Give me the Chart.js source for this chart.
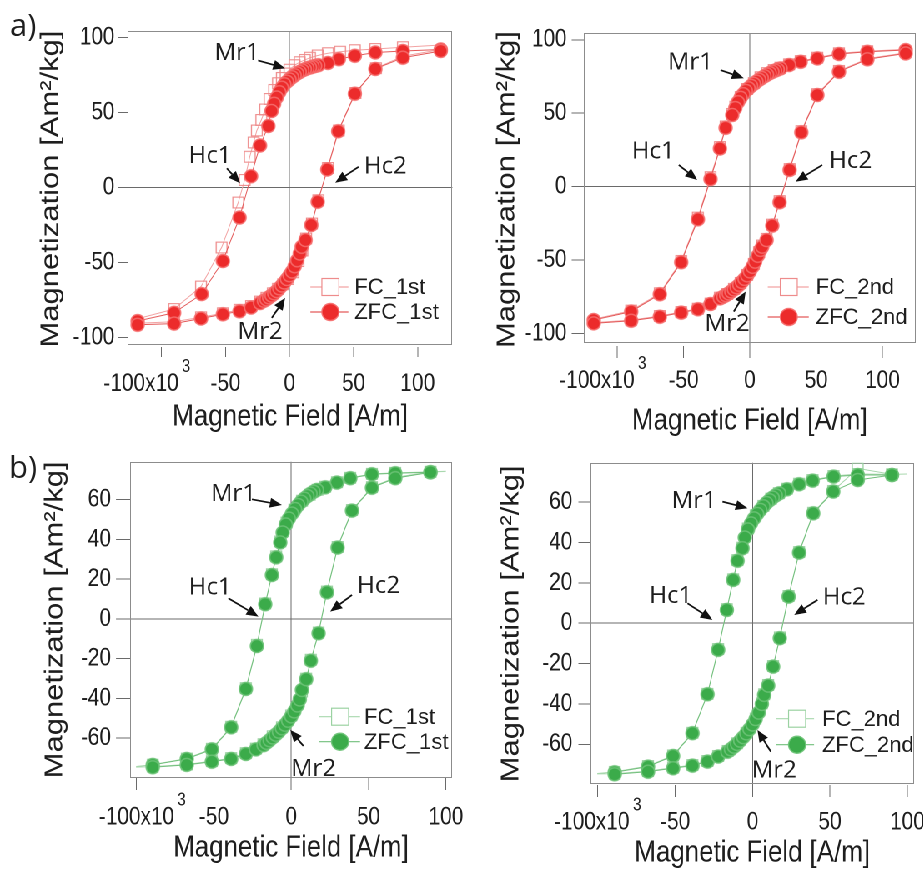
<!DOCTYPE html>
<html><head><meta charset="utf-8">
<script src="https://cdn.jsdelivr.net/npm/chart.js@4.4.1/dist/chart.umd.min.js"></script>
<style>
html,body{margin:0;padding:0;background:#fff;overflow:hidden;}
#stage{position:absolute;left:0;top:0;width:923px;height:874px;overflow:hidden;background:#fff;}
#inner{position:absolute;left:0;top:0;width:1200px;height:874px;transform-origin:0 0;}
canvas{position:absolute;}
.lbl{position:absolute;font-family:"Open Sans","Liberation Sans",Arial,sans-serif;font-size:31px;line-height:31px;color:#1e1e1e;}
</style></head><body>
<div id="stage"><div id="inner">
<canvas id="c1"></canvas><canvas id="c2"></canvas><canvas id="c3"></canvas><canvas id="c4"></canvas>
</div>
<div class="lbl" style="left:10px;top:9px;">a)</div>
<div class="lbl" style="left:9px;top:451px;">b)</div>
</div>
<script>
// ---------------- DATA (field in 10^3 A/m, magnetization in Am²/kg) ----------------
const xTicks = [-100, -50, 0, 50, 100];
const yTicksA = [-100, -50, 0, 50, 100];
const yTicksB = [-60, -40, -20, 0, 20, 40, 60];

// a) ZFC_1st
const aZFC1_H = [118,88.5,67,51,38.5,30,22.5,20,18,16,14,12,10,8,6,4,2,0,-2,-4,-6,-8,-10,-12,-14,-16.5,-23,-30,-39,-52,-68.5,-90,-118.5,
  -118.5,-90,-69,-52,-39,-30,-23,-20,-18,-16,-14,-12,-10,-8,-6,-4,-2,0,2,4,6,8,9.5,12.5,17,22,29.5,38,51,67,88.5,118];
const aZFC1_M = [92,91,90,87.8,85.5,83,81.5,81,80.5,80,79.5,78.8,78,77,76,74.8,73.5,72,70.5,68.8,66.5,63.5,60,55.8,51,41,28,7.5,-20,-49,-71,-83.5,-89,
  -91.5,-90.7,-87.3,-84.5,-82.5,-80,-77,-75.5,-74.5,-73.2,-72,-70.5,-69,-67.2,-65.3,-63.3,-61,-58.5,-56,-52.5,-48.5,-44,-39.5,-35,-25,-9.5,12,37.5,62.5,79,86.5,91];
// a) FC_1st
const aFC1_H = [118,88.5,67,51,39.5,30,22,16,12,8,4,0,-3,-6,-9,-12,-15.5,-19,-22,-25.5,-28,-31,-35,-40,-53,-69,-90,-118.5,
  -118.5,-90,-69,-52,-39,-30,-23,-18,-13,-9,-5,-1,3,7,10,13,17.5,22.5,30,38.5,51.5,67.5,88.5,118];
const aFC1_M = [95,93.5,92.3,91.5,90.5,89.5,88,86.5,85,83.5,81.5,78.5,76,73,69.5,65,59,52,45,38,30,20.5,5,-10,-40,-66,-81,-87.5,
  -90.5,-89.5,-86.5,-83.8,-81.5,-79,-76,-73.5,-70.5,-67.5,-64.5,-61,-56.5,-49,-42,-34,-24,-8.5,13,38,63,79.5,87.5,92];

// a) ZFC_2nd
const aZFC2_H = [117.5,88.6,67.2,50.9,38.3,29.6,23.2,21,19,17,15,13,11,9,7,5,3,1,-1,-3,-5,-7,-9,-11,-13.3,-18.3,-22.6,-29.7,-39.2,-51.8,-67.9,-89.5,-117.7,
  -117.7,-89.5,-67.9,-51.8,-39.2,-29.7,-22.6,-20,-18,-16,-14,-12,-10,-8,-6,-4,-2,0,2,4,6,8,9.3,12.6,16.9,22.4,30,38.8,50.9,67.2,88.6,117.5];
const aZFC2_M = [93,91.8,90.3,87.3,85,82.8,80.5,79.8,79,78.2,77.3,76.3,75.2,74,72.8,71.5,70,68.6,67,65.2,63,60.5,57.5,53.5,48.8,40.1,26,5.2,-22.2,-51.4,-73.2,-85,-90.7,
  -93,-91.2,-88.5,-85.7,-83.4,-79.8,-76,-74.8,-73.8,-72.6,-71.3,-69.9,-68.4,-66.7,-64.8,-62.7,-60.3,-57.6,-54.5,-51,-47,-43,-40.8,-36.3,-26.5,-10.6,11.4,37,62.4,78.2,86.7,90.7];
// a) FC_2nd
const aFC2_H = [117.5,88.6,67.2,50.9,38.3,29.6,23,18,13,8,3,-2,-7,-11,-13.5,-18.3,-22.6,-29.7,-39.2,-51.8,-67.9,-89.5,-117.7,
  -117.7,-89.5,-67.9,-51.8,-39.2,-29.7,-22.6,-17,-12,-7,-2,3,7,9.3,12.6,16.9,22.4,30,38.8,50.9,67.2,88.6,117.5];
const aFC2_M = [93.5,92.2,90.8,87.8,85.5,83.3,81,79.4,77.3,74.5,70.5,66.5,61,54.5,49.5,41,27,6.5,-21,-50.5,-72.5,-84.3,-90.2,
  -92.5,-90.8,-88,-85.3,-83,-79.5,-75.5,-73,-69.5,-65.5,-60,-52.5,-44.5,-40,-35.5,-25.8,-9.8,12,37.8,63,78.8,87.2,91.2];

// b) ZFC_1st
const bZFC1_H = [90,67.3,52.2,38.2,29.6,22,16.6,14.5,12.5,10.5,8.5,6.5,4.5,2.5,0.5,-1.5,-3.5,-5.5,-7.1,-9.7,-12.5,-16.8,-22.2,-29.3,-38.8,-51.3,-67.5,-89.5,
  -89.5,-67.5,-51.3,-38.8,-29.3,-22.8,-17.9,-16,-14,-12,-10,-8,-6,-4,-2,0,2,4,5.5,6.9,9.7,12.7,17.7,23.1,30,39.3,52.2,67.3,90];
const bZFC1_M = [73.8,73.3,72.8,70.8,68.6,66.2,64.9,64,63,61.8,60.5,59,57.3,55.3,53,50.5,47.5,43.5,38.5,31,22.1,7.4,-13.6,-35.2,-54.5,-65.6,-70.4,-73.4,
  -74.6,-73.4,-71.8,-70.4,-67.9,-65.6,-63.5,-62.3,-61,-59.6,-58.2,-56.7,-55,-53.2,-51.2,-49,-46.5,-43.5,-40.5,-35.7,-30.3,-21,-7.2,13.4,35.9,54.5,66,70.8,73.8];
// b) FC_1st
const bFC1_H = [100,90,67.3,52.2,38.2,29.6,22,17,12,7,2,-3,-7,-9.7,-12.5,-16.8,-22.2,-29.3,-38.8,-51.3,-67.5,-89.5,-100,
  -100,-89.5,-67.5,-51.3,-38.8,-29.3,-22.8,-18,-12,-6,0,5,6.9,9.7,12.7,17.7,23.1,30,39.3,52.2,67.3,90,100];
const bFC1_M = [74.2,74,73.5,73,71,68.8,66.5,65,62.5,59.5,55,48.5,39,31.5,22.5,7.8,-13,-34.8,-54.2,-65.3,-70.2,-73.3,-74.2,
  -74.5,-74.3,-73.2,-71.5,-70,-67.5,-65.2,-63,-59,-54.5,-48.5,-41.5,-36.5,-30,-20.5,-6.8,13.8,36.2,54.8,66.3,71.2,74,74.3];

// b) ZFC_2nd
const bZFC2_H = [90,67.9,52.3,38.8,30.1,22.2,17.2,15,13,11,9,7,5,3,1,-1,-3,-5,-6.5,-9.7,-12.5,-16.6,-22.2,-29.1,-38.8,-51.3,-67.5,-89,
  -89,-67.5,-51.3,-38.8,-29.1,-22.2,-16.2,-14,-12,-10,-8,-6,-4,-2,0,2,4,6,7.5,10.1,13.3,17.6,23.3,30.1,39.2,52.1,67.9,90];
const bZFC2_M = [73.5,73.5,72.7,70.7,68.9,66.4,64.4,63.4,62.3,61,59.6,58,56.2,54.2,52,49.5,46.5,42.5,37.2,31,21.5,6.6,-13.2,-35.2,-54.5,-65.8,-71.1,-73.9,
  -74.9,-73.6,-71.9,-70.6,-68.6,-66.1,-63.7,-62.5,-61.2,-59.8,-58.2,-56.5,-54.6,-52.5,-50.2,-47.5,-44.3,-40,-35.5,-30.9,-21.5,-7.4,13.2,35,54.5,65.3,71,73.5];
// b) FC_2nd
const bFC2_H = [100,90,67.9,52.3,38.8,30.1,22.2,17,12,7,2,-3,-6.5,-9.7,-12.5,-16.6,-22.2,-29.1,-38.8,-51.3,-67.5,-89,-100,
  -100,-89,-67.5,-51.3,-38.8,-29.1,-22.2,-16,-10,-4,2,6,7.5,10.1,13.3,17.6,23.3,30.1,39.2,52.1,67.9,90,100];
const bFC2_M = [74,73.8,74,73,71,69.2,66.7,64.5,61.8,58.2,53.5,47,37.5,31.3,21.8,7,-12.8,-35,-54.3,-65.5,-70.8,-73.7,-74.5,
  -74.7,-74.6,-73.3,-71.6,-70.3,-68.3,-65.8,-63.3,-59.5,-54.3,-47.2,-39.7,-35.2,-30.6,-21.2,-7,13.5,35.3,54.8,65.6,76.8,73.8,74];

// annotation texts with positions in data units: [label, textX, textY, arrowFromX, arrowFromY, arrowToX, arrowToY]
const notesA1 = [['Mr1',-41,90.2,-24.5,84.7,-3.4,79.4],['Hc1',-62,21.6,-48.9,12.8,-38.5,2.8],['Hc2',74.8,14.5,53.9,13.8,35.7,3.2],['Mr2',-22.9,-95.8,-13.8,-86.9,-3.4,-73.6]];
const notesA2 = [['Mr1',-44.8,85,-22.1,79.4,-4.5,73.8],['Hc1',-72.9,24.5,-53.6,14.8,-39.7,4.6],['Hc2',76,18.2,54.6,14.8,34.5,3.4],['Mr2',-17.1,-92.9,-12.1,-85,-3.2,-71.4]];
const notesB1 = [['Mr1',-37.3,63.2,-25.4,60.2,-6,57.3],['Hc1',-52.4,16.2,-40.6,10.4,-21.2,1.2],['Hc2',56.5,17.1,39.3,12.1,25.2,3.7],['Mr2',14.4,-75.1,7.9,-63.9,-0.6,-55.8]];
const notesB2 = [['Mr1',-37.8,61.1,-19.4,60.3,-3.2,57],['Hc1',-52.8,14,-42,9.9,-25.9,1.6],['Hc2',59.2,13.2,42,11.6,26.9,4.1],['Mr2',14,-72.7,11.8,-63.7,3.2,-52.9]];

// ---------------- STYLE / LAYOUT ----------------
const S = 0.834; // horizontal squeeze of the reference figure (axis text is condensed)
const FONT = '"Liberation Sans", Arial, Helvetica, sans-serif';
const NOTEFONT = '"Open Sans", "Liberation Sans", Arial, sans-serif';
const TF = 25; // tick font size
const TXT = '#1e1e1e', ZERO = '#6a6a6a', TICK = '#6a6a6a', FRAME = '#8c8c8c';
const RED = {line:'#e35a5a', fill:'#ec2b2b', edge:'rgba(246,110,110,0.9)', fcLine:'#f2a3a3', fcMark:'#ee8c8c'};
const GRN = {line:'#72bf7c', fill:'#3bab4a', edge:'rgba(110,195,120,0.9)', fcLine:'#a9d8ae', fcMark:'#9bd2a2'};

document.getElementById('inner').style.transform = 'scaleX(' + S + ')';

function pts(xs, ys) { return xs.map((v, i) => ({x: v, y: ys[i]})); }
function fnt(px, fam) { return px + 'px ' + (fam || FONT); }

// markers pre-stretched horizontally so they look round after the squeeze
function markerImg(kind, r, fill, edge, lw) {
  const k = 4;
  const w = Math.ceil((2 * r + lw + 2) / S), h = Math.ceil(2 * r + lw + 2);
  const c = document.createElement('canvas'); c.width = w * k; c.height = h * k;
  const g = c.getContext('2d');
  g.setTransform(k / S, 0, 0, k, 0, 0);
  const cx = w * S / 2, cy = h / 2;
  g.lineWidth = lw;
  if (kind === 'circle') {
    g.beginPath(); g.arc(cx, cy, r, 0, Math.PI * 2);
    g.fillStyle = fill; g.fill(); g.strokeStyle = edge; g.stroke();
  } else {
    g.strokeStyle = edge; g.strokeRect(cx - r, cy - r, 2 * r, 2 * r);
  }
  const img = new Image();
  img.width = w; img.height = h;
  return new Promise(res => { img.onload = () => res(img); img.src = c.toDataURL(); });
}

const hystPlugin = {
  id: 'hyst',
  beforeDatasetsDraw(chart, args, o) {
    const {ctx, chartArea: a} = chart;
    ctx.save();
    ctx.strokeStyle = FRAME; ctx.lineWidth = 1;
    const fb = a.bottom - o.frameGap;
    ctx.strokeRect(Math.round(a.left) + 0.5, Math.round(a.top) + 0.5, Math.round(a.right - a.left) - 1, Math.round(fb - a.top));
    ctx.restore();
  },
  afterDatasetsDraw(chart, args, o) {
    const {ctx, chartArea: a, scales: {x, y}} = chart;
    ctx.save();
    // annotations (drawn un-squeezed)
    for (const n of o.notes) {
      ctx.save();
      ctx.translate(x.getPixelForValue(n[1]), y.getPixelForValue(n[2]));
      ctx.scale(1 / S, 1);
      ctx.fillStyle = TXT; ctx.font = fnt(24, NOTEFONT); ctx.textAlign = 'center'; ctx.textBaseline = 'middle';
      ctx.fillText(n[0], 0, 1);
      ctx.restore();
      const x1 = x.getPixelForValue(n[3]), y1 = y.getPixelForValue(n[4]);
      const x2 = x.getPixelForValue(n[5]), y2 = y.getPixelForValue(n[6]);
      ctx.save(); ctx.scale(1 / S, 1);
      const X1 = x1 * S, X2 = x2 * S;
      const ang = Math.atan2(y2 - y1, X2 - X1), hl = 12, hw = 5;
      const bx = X2 - hl * Math.cos(ang), by = y2 - hl * Math.sin(ang);
      ctx.strokeStyle = '#111'; ctx.lineWidth = 1.7;
      ctx.beginPath(); ctx.moveTo(X1, y1); ctx.lineTo(bx, by); ctx.stroke();
      ctx.beginPath(); ctx.moveTo(X2, y2);
      ctx.lineTo(bx + hw * Math.sin(ang), by - hw * Math.cos(ang));
      ctx.lineTo(bx - hw * Math.sin(ang), by + hw * Math.cos(ang));
      ctx.closePath(); ctx.fillStyle = '#111'; ctx.fill();
      ctx.restore();
    }
    // legend
    const L = o.legend, R = a.right, FB = a.bottom - o.frameGap;
    const ds = chart.data.datasets;
    [ds[1], ds[0]].forEach((d, i) => {
      const yy = FB + L.rows[i];
      ctx.strokeStyle = d.borderColor; ctx.lineWidth = 1.2;
      ctx.beginPath(); ctx.moveTo(R + L.line[0] / S, yy); ctx.lineTo(R + L.line[1] / S, yy); ctx.stroke();
      const mx = R + L.mk / S;
      if (d.mk === 'rect') {
        ctx.fillStyle = '#fff'; ctx.fillRect(mx - 8.5 / S, yy - 8.5, 17 / S, 17);
        ctx.strokeStyle = d.mkEdge; ctx.lineWidth = 1.2;
        ctx.strokeRect(mx - 8.5 / S, yy - 8.5, 17 / S, 17);
      } else {
        ctx.beginPath(); ctx.ellipse(mx, yy, 8.5 / S, 8.5, 0, 0, Math.PI * 2);
        ctx.fillStyle = d.mkFill; ctx.fill();
        ctx.strokeStyle = d.mkEdge; ctx.lineWidth = 1.5; ctx.stroke();
      }
      ctx.save();
      ctx.translate(R + L.tx / S, yy); ctx.scale(1 / S, 1);
      ctx.fillStyle = TXT; ctx.font = fnt(22); ctx.textAlign = 'left'; ctx.textBaseline = 'middle';
      ctx.fillText(d.label, 0, 1);
      ctx.restore();
    });
    // superscript exponent on first x tick label
    ctx.font = fnt(TF);
    const full = '-100x10' + ' '.repeat(o.sp);
    const fw = ctx.measureText(full).width, vw = ctx.measureText('-100x10').width;
    const px = x.getPixelForValue(xTicks[0]);
    const endX = px - fw / 2 + vw;
    const lblY = a.bottom + o.xTick + o.xPad + TF / 2;
    ctx.font = fnt(18); ctx.textAlign = 'left'; ctx.textBaseline = 'middle'; ctx.fillStyle = TXT;
    ctx.fillText('3', endX + 4, lblY - 17);
    ctx.restore();
  }
};

function makePanel(p, imgs) {
  const cv = document.getElementById(p.id);
  const [bx0, by0, bx1, by1] = p.box;
  const W = Math.round((bx1 - bx0) / S), H = by1 - by0;
  cv.style.left = (bx0 / S) + 'px'; cv.style.top = by0 + 'px';
  cv.width = W; cv.height = H; cv.style.width = W + 'px'; cv.style.height = H + 'px';
  const yW = (p.frame.l - bx0) / S;
  const xH = by1 - p.chartBottom;
  const C = p.col;
  const zfc = {label: p.names[0], data: pts(p.zH, p.zM), showLine: true, tension: 0,
    borderColor: C.line, borderWidth: 1, pointStyle: imgs.circle, pointRadius: 7,
    mk: 'circle', mkFill: C.fill, mkEdge: C.edge};
  const fc = {label: p.names[1], data: pts(p.fH, p.fM), showLine: true, tension: 0,
    borderColor: C.fcLine, borderWidth: 1, pointStyle: imgs.rect,
    pointRadius: c => (c.raw && Math.abs(c.raw.x) >= 100) ? 0 : 7,
    mk: 'rect', mkEdge: C.fcMark};
  const xPad = p.lblY - p.chartBottom - p.xTick - TF / 2 + 1;
  new Chart(cv, {
    type: 'scatter',
    data: {datasets: [zfc, fc]},
    options: {
      responsive: false, animation: false, devicePixelRatio: 2, events: [],
      layout: {padding: {left: 0, top: p.frame.t - by0, right: (bx1 - p.frame.r) / S, bottom: 0}},
      plugins: {legend: {display: false}, tooltip: {enabled: false},
        hyst: {notes: p.notes, legend: p.legend, frameGap: p.chartBottom - p.frame.b, sp: p.sp, xPad: xPad, xTick: p.xTick}},
      scales: {
        x: {type: 'linear', min: p.xr[0], max: p.xr[1],
          afterBuildTicks: s => { s.ticks = xTicks.map(v => ({value: v})); },
          afterFit: s => { s.height = xH; },
          border: {display: false},
          grid: {drawOnChartArea: true, lineWidth: 1, tickLength: p.xTick, tickColor: TICK,
            color: c => (c.tick && c.tick.value === 0) ? ZERO : 'rgba(0,0,0,0)'},
          ticks: {font: {family: FONT, size: TF, lineHeight: 1}, color: TXT, padding: xPad, maxRotation: 0, autoSkip: false,
            callback: v => v === xTicks[0] ? '-100x10' + ' '.repeat(p.sp) : String(v)},
          title: {display: true, text: 'Magnetic Field [A/m]', color: TXT, font: {family: FONT, size: 31, lineHeight: 1},
            padding: {top: 0, bottom: H - (p.xTitleY - by0) - 15.5}}
        },
        y: {type: 'linear', min: p.yr[0], max: p.yr[1],
          afterBuildTicks: s => { s.ticks = p.yTicks.map(v => ({value: v})); },
          afterFit: s => { s.width = yW; },
          border: {display: false},
          grid: {drawOnChartArea: true, lineWidth: 1, tickLength: p.yTick / S, tickColor: TICK,
            color: c => (c.tick && c.tick.value === 0) ? ZERO : 'rgba(0,0,0,0)'},
          ticks: {font: {family: FONT, size: TF, lineHeight: 1}, color: TXT, padding: (p.yGap - p.yTick) / S, autoSkip: false},
          title: {display: true, text: 'Magnetization [Am²/kg]', color: TXT, font: {family: FONT, size: 31, lineHeight: 1},
            padding: {top: (p.yTitleX - bx0) / S - 15.5, bottom: 0}}
        }
      }
    },
    plugins: [hystPlugin]
  });
}

(async function () {
  const red = {circle: await markerImg('circle', 6.5, RED.fill, RED.edge, 1.5), rect: await markerImg('rect', 5.4, null, RED.fcMark, 1.1)};
  const grn = {circle: await markerImg('circle', 6.5, GRN.fill, GRN.edge, 1.5), rect: await markerImg('rect', 5.4, null, GRN.fcMark, 1.1)};
  makePanel({id: 'c1', box: [0, 0, 480, 437], frame: {l: 128, r: 452, t: 31, b: 344}, chartBottom: 347,
    xr: [-126.0, 127.1], yr: [-106.3, 104.3], yTicks: yTicksA, lblY: 383, xTitleY: 417, yTitleX: 51, sp: 7,
    xTick: 10, yTick: 10, yGap: 13.5,
    col: RED, names: ['ZFC_1st', 'FC_1st'], zH: aZFC1_H, zM: aZFC1_M, fH: aFC1_H, fM: aFC1_M, notes: notesA1,
    legend: {line: [-142, -104], mk: -122, tx: -98, rows: [-57, -32]}}, red);
  makePanel({id: 'c2', box: [460, 0, 960, 437], frame: {l: 583.3, r: 915, t: 33, b: 342}, chartBottom: 346,
    xr: [-125.3, 125.1], yr: [-108.4, 104.6], yTicks: yTicksA, lblY: 380, xTitleY: 421, yTitleX: 506.7, sp: 7,
    xTick: 12, yTick: 12, yGap: 17,
    col: RED, names: ['ZFC_2nd', 'FC_2nd'], zH: aZFC2_H, zM: aZFC2_M, fH: aFC2_H, fM: aFC2_M, notes: notesA2,
    legend: {line: [-148, -107], mk: -127, tx: -100, rows: [-55, -25]}}, red);
  makePanel({id: 'c3', box: [0, 437, 480, 874], frame: {l: 130, r: 451.7, t: 461.7, b: 776.7}, chartBottom: 778,
    xr: [-104.2, 104.0], yr: [-80.0, 79.1], yTicks: yTicksB, lblY: 816.7, xTitleY: 848, yTitleX: 55, sp: 0,
    xTick: 12, yTick: 14, yGap: 19,
    col: GRN, names: ['ZFC_1st', 'FC_1st'], zH: bZFC1_H, zM: bZFC1_M, fH: bFC1_H, fM: bFC1_M, notes: notesB1,
    legend: {line: [-133, -92], mk: -112, tx: -88, rows: [-60, -35]}}, grn);
  makePanel({id: 'c4', box: [460, 437, 960, 874], frame: {l: 590, r: 913.3, t: 462.7, b: 782.7}, chartBottom: 785,
    xr: [-104.7, 104.3], yr: [-80.2, 79.6], yTicks: yTicksB, lblY: 821.7, xTitleY: 853, yTitleX: 511, sp: 2,
    xTick: 12, yTick: 12, yGap: 18,
    col: GRN, names: ['ZFC_2nd', 'FC_2nd'], zH: bZFC2_H, zM: bZFC2_M, fH: bFC2_H, fM: bFC2_M, notes: notesB2,
    legend: {line: [-138, -100], mk: -117, tx: -92, rows: [-64, -38]}}, grn);
})();
</script>
</body></html>
